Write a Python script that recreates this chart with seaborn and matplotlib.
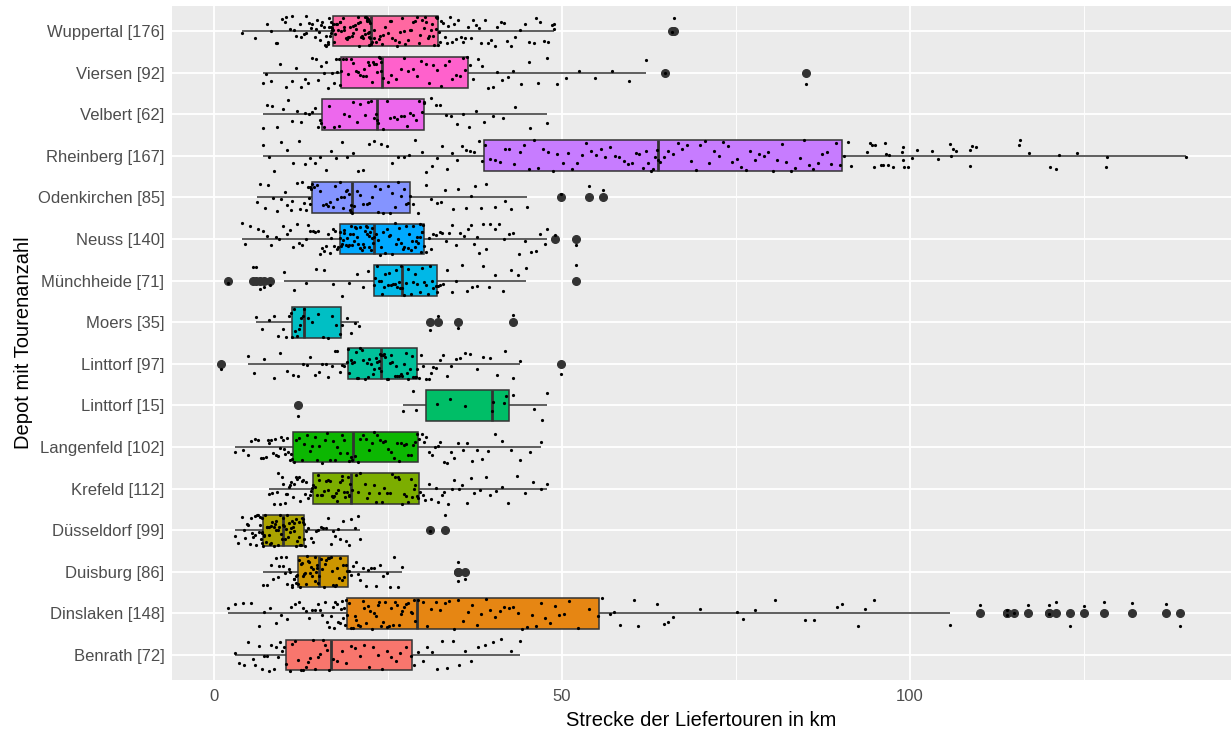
import numpy as np
import pandas as pd
import matplotlib
matplotlib.use("Agg")
import matplotlib.pyplot as plt
import seaborn as sns

# ---------------- data (km per tour) ----------------
depots = ["Wuppertal [176]", "Viersen [92]", "Velbert [62]", "Rheinberg [167]",
          "Odenkirchen [85]", "Neuss [140]", "Münchheide [71]", "Moers [35]",
          "Linttorf [97]", "Linttorf [15]", "Langenfeld [102]", "Krefeld [112]",
          "Düsseldorf [99]", "Duisburg [86]", "Dinslaken [148]", "Benrath [72]"]

# ggplot hue order (alphabetical factor levels)
hue_levels = ["Benrath [72]", "Dinslaken [148]", "Duisburg [86]", "Düsseldorf [99]",
              "Krefeld [112]", "Langenfeld [102]", "Linttorf [15]", "Linttorf [97]",
              "Moers [35]", "Münchheide [71]", "Neuss [140]", "Odenkirchen [85]",
              "Rheinberg [167]", "Velbert [62]", "Viersen [92]", "Wuppertal [176]"]

wuppertal = [4.0, 5.9, 7.6, 8.1, 8.8, 9.0, 9.7, 10.2, 10.3, 10.9, 11.2, 11.4, 11.8, 12.3, 12.4,
             12.9, 13.1, 13.2, 13.6, 13.9, 14.1, 14.4, 14.6, 14.8, 15.0, 15.2, 15.4, 15.5, 15.7,
             15.9, 16.0, 16.1, 16.3, 16.4, 16.5, 16.5, 16.6, 16.7, 16.8, 16.8, 16.9, 16.9, 17.0, 17.0,
             17.1, 17.2, 17.4, 17.5, 17.7, 17.8, 18.0, 18.1, 18.2, 18.5, 18.6, 18.7, 18.9, 19.1,
             19.2, 19.4, 19.5, 19.8, 19.9, 20.0, 20.2, 20.3, 20.6, 20.7, 20.8, 21.0, 21.1, 21.2,
             21.4, 21.5, 21.6, 21.7, 21.8, 21.9, 22.0, 22.0, 22.1, 22.1, 22.2, 22.2, 22.3, 22.3,
             22.4, 22.4,
             22.5, 22.7, 22.9, 23.0, 23.3, 23.6, 23.8, 24.1, 24.3, 24.5, 24.9, 25.2, 25.4, 25.6,
             25.9, 26.3, 26.5, 26.7, 27.0, 27.3, 27.4, 27.8, 28.1, 28.3, 28.6, 28.8, 29.1, 29.4,
             29.6, 29.9, 30.1, 30.3, 30.5, 30.7, 30.9, 31.1, 31.3, 31.5, 31.6, 31.8, 31.9, 32.0,
             32.0, 32.1,
             32.3, 32.4, 32.6, 32.9, 33.1, 33.4, 33.6, 33.9, 34.2, 34.5, 34.8, 35.1, 35.4, 35.8,
             36.1, 36.5, 36.9, 37.2, 37.6, 38.0, 38.4, 38.9, 39.3, 39.8, 40.3, 40.7, 41.2, 41.6,
             42.1, 42.7, 43.3, 43.9, 44.6, 45.2, 45.9, 46.3, 46.8, 47.4, 48.0, 48.5, 48.8, 48.9,
             65.8, 66.1]

viersen = [7.0, 7.4, 8.2, 9.5, 10.3, 11.1, 11.8, 12.5, 13.0, 13.4, 14.1, 14.6, 14.9, 15.3, 15.8,
           16.1, 16.4, 16.9, 17.2, 17.5, 17.7, 17.9, 18.0,
           18.2, 18.5, 18.9, 19.2, 19.6, 19.9, 20.3, 20.6, 20.9, 21.3, 21.5, 21.8, 22.1, 22.3,
           22.6, 22.8, 23.0, 23.2, 23.4, 23.6, 23.8, 23.9, 24.0,
           24.3, 24.9, 25.4, 26.1, 26.8, 27.3, 27.9, 28.6, 29.2, 29.7, 30.4, 30.9, 31.5, 32.0,
           32.6, 33.1, 33.7, 34.2, 34.8, 35.3, 35.7, 36.0, 36.3,
           36.7, 37.2, 37.9, 38.5, 39.3, 40.1, 40.6, 41.4, 42.2, 43.0, 44.1, 45.3, 46.5, 47.8,
           49.2, 50.6, 52.4, 54.8, 57.2, 59.6, 62.1, 64.8, 85.1]

velbert = [7.0, 7.6, 8.3, 9.0, 9.9, 10.6, 11.2, 11.9, 12.5, 13.0, 13.6, 14.1, 14.5, 14.9, 15.2, 15.4,
           15.8, 16.5, 17.2, 17.9, 18.6, 19.3, 19.9, 20.5, 21.0, 21.6, 22.1, 22.5, 22.9, 23.2, 23.4,
           23.5, 24.2, 24.8, 25.3, 25.8, 26.3, 26.8, 27.2, 27.7, 28.1, 28.6, 29.0, 29.4, 29.8, 30.1,
           30.2, 31.2, 31.8, 32.5, 33.3, 34.0, 34.9, 35.7, 36.6, 37.6, 38.7, 40.0, 41.5, 43.2, 45.4,
           47.9]

rheinberg = [7.0, 7.8, 8.5, 9.6, 10.4, 11.3, 12.1, 13.0, 13.7, 14.5, 15.2, 16.0, 16.8, 17.5, 18.3,
             19.0, 19.9, 20.7, 21.4, 22.3, 23.0, 23.9, 24.8, 25.5, 26.4, 27.2, 28.0, 28.9, 29.8,
             30.5, 31.3, 32.0, 32.8, 33.5, 34.2, 34.9, 35.6, 36.2, 36.8, 37.4, 38.0, 38.5,
             38.9, 39.6, 40.3, 41.0, 41.8, 42.4, 43.1, 43.9, 44.5, 45.2, 45.9, 46.6, 47.3, 48.0,
             48.7, 49.3, 50.1, 50.8, 51.4, 52.1, 52.9, 53.5, 54.2, 54.9, 55.6, 56.2, 56.9, 57.6,
             58.2, 58.9, 59.5, 60.1, 60.6, 61.1, 61.6, 62.0, 62.4, 62.8, 63.1, 63.4, 63.6, 63.8,
             64.1, 64.7, 65.3, 66.0, 66.6, 67.3, 67.9, 68.6, 69.2, 69.9, 70.5, 71.2, 71.8, 72.5,
             73.1, 73.8, 74.4, 75.1, 75.7, 76.4, 77.0, 77.7, 78.3, 79.0, 79.6, 80.3, 80.9, 81.6,
             82.2, 82.9, 83.5, 84.2, 84.8, 85.5, 86.1, 86.8, 87.4, 88.1, 88.7, 89.4, 90.0, 90.6,
             91.1, 91.5, 93.8, 94.3, 94.6, 94.8, 95.0, 95.8, 96.1, 96.5, 96.6, 96.8, 97.0, 97.6,
             98.9, 99.0, 99.1, 99.2, 99.8, 100.3, 101.0, 103.2, 104.0, 105.8, 106.0, 106.2, 106.6,
             108.6, 108.7, 109.0, 109.5, 115.7, 115.8, 117.1, 120.1, 121.0, 121.5, 124.1, 128.2,
             128.3, 139.8]

odenkirchen = [6.1, 6.5, 7.3, 7.7, 8.4, 9.0, 9.6, 10.1, 10.5, 11.0, 11.2, 11.9, 12.3, 12.6, 12.9,
               13.2, 13.4, 13.6, 13.7, 13.8, 13.9, 14.0,
               14.3, 14.7, 15.2, 15.6, 16.1, 16.3, 16.6, 17.1, 17.4, 17.7, 18.0, 18.2, 18.5, 18.7,
               18.9, 19.1, 19.3, 19.5, 19.6, 19.7, 19.8,
               20.1, 20.5, 20.9, 21.4, 21.9, 22.2, 22.6, 23.1, 23.5, 23.8, 24.3, 24.9, 25.2, 25.6,
               26.0, 26.4, 26.8, 27.2, 27.5, 27.8, 28.1,
               28.6, 29.3, 30.4, 31.1, 32.0, 32.6, 33.1, 34.3, 35.0, 36.2, 36.9, 37.5, 38.4, 39.1,
               40.3, 41.8, 42.7, 44.9, 49.9, 53.9, 55.9]

neuss = [4.0, 4.4, 5.1, 6.2, 7.0, 7.5, 8.1, 8.9, 9.3, 9.9, 10.4, 10.8, 11.3, 11.9, 12.2, 12.6, 13.1,
         13.5, 13.8, 14.2, 14.5, 14.9, 15.2, 15.5, 15.8, 16.1, 16.3, 16.6, 16.8, 17.0, 17.2, 17.4,
         17.6, 17.8, 18.0,
         18.1, 18.2, 18.3, 18.5, 18.6, 18.7, 18.9, 19.0, 19.2, 19.3, 19.5, 19.6, 19.8, 19.9, 20.1,
         20.2, 20.4, 20.5, 20.7, 20.9, 21.0, 21.2, 21.3, 21.5, 21.6, 21.8, 21.9, 22.0, 22.2, 22.3,
         22.4, 22.5, 22.6, 22.7, 22.8,
         23.0, 23.3, 23.5, 23.8, 24.0, 24.3, 24.6, 24.8, 25.1, 25.3, 25.6, 25.9, 26.1, 26.4, 26.6,
         26.9, 27.1, 27.3, 27.6, 27.8, 28.0, 28.2, 28.4, 28.6, 28.8, 29.0, 29.2, 29.3, 29.5, 29.6,
         29.7, 29.8, 29.9, 30.0, 30.1,
         30.4, 30.8, 31.1, 31.5, 31.9, 32.4, 32.7, 33.3, 33.8, 34.2, 34.8, 35.3, 35.9, 36.4, 36.9,
         37.4, 37.7, 38.0, 38.6, 39.1, 39.7, 40.3, 40.9, 41.6, 42.3, 43.0, 43.8, 44.6, 45.5, 46.2,
         46.8, 47.5, 47.9, 49.0, 52.0]

muenchheide = [2.0, 5.6, 6.0, 6.6, 7.1, 8.0, 10.0, 11.4, 13.2, 14.6, 15.8, 17.1, 18.3, 19.4, 20.5,
               21.3, 22.1, 22.9,
               23.1, 23.4, 23.6, 23.9, 24.1, 24.4, 24.6, 24.9, 25.1, 25.4, 25.7, 25.9, 26.1, 26.3,
               26.5, 26.7, 26.9, 27.0,
               27.2, 27.5, 27.9, 28.2, 28.5, 28.9, 29.2, 29.5, 29.8, 30.1, 30.4, 30.7, 31.0, 31.3,
               31.5, 31.8, 32.0, 32.1,
               32.4, 32.9, 33.5, 34.2, 34.8, 35.6, 36.3, 37.1, 37.8, 38.6, 39.5, 40.4, 41.5, 42.6,
               43.7, 44.8, 52.0]

moers = [6.0, 6.9, 7.8, 8.5, 9.2, 9.8, 10.3, 10.7, 11.0,
         11.2, 11.4, 11.6, 11.9, 12.1, 12.3, 12.5, 12.7, 12.9,
         13.4, 14.1, 14.9, 15.6, 16.3, 16.9, 17.5, 18.0,
         18.4, 19.1, 19.6, 20.2, 20.8, 31.0, 32.1, 35.1, 43.0]

linttorf97 = [1.0, 4.9, 5.7, 7.1, 8.5, 9.4, 10.4, 11.3, 12.0, 12.7, 13.3, 13.8, 14.4, 15.0, 15.5,
              16.0, 16.4, 16.9, 17.3, 17.7, 18.1, 18.4, 18.7, 19.0,
              19.2, 19.4, 19.6, 19.8, 20.1, 20.3, 20.5, 20.7, 21.0, 21.2, 21.4, 21.6, 21.9, 22.1,
              22.3, 22.5, 22.8, 23.0, 23.2, 23.4, 23.6, 23.7, 23.8, 23.9, 24.0,
              24.2, 24.4, 24.6, 24.8, 25.0, 25.2, 25.4, 25.6, 25.9, 26.1, 26.3, 26.6, 26.8, 27.0,
              27.3, 27.5, 27.7, 27.9, 28.1, 28.4, 28.6, 28.8, 29.0, 29.1,
              29.4, 29.7, 30.0, 30.4, 30.8, 31.1, 31.5, 31.9, 32.4, 32.9, 33.4, 34.0, 34.7, 35.3,
              36.0, 36.8, 37.7, 38.6, 39.6, 40.7, 41.8, 42.9, 43.9, 49.9]

linttorf15 = [12.0, 27.1, 28.5, 29.0, 32.0, 33.9, 36.0, 39.9, 40.0, 41.7, 41.9, 42.9, 45.9, 47.1, 47.9]

langenfeld = [2.9, 4.1, 4.8, 5.3, 5.9, 6.3, 6.7, 7.0, 7.4, 7.7, 7.9, 8.2, 8.4, 8.7, 8.9, 9.2, 9.4,
              9.6, 9.8, 10.0, 10.2, 10.4, 10.6, 10.8, 11.0, 11.2,
              11.5, 11.8, 12.2, 12.6, 12.9, 13.3, 13.7, 14.0, 14.4, 14.8, 15.1, 15.5, 15.9, 16.2,
              16.6, 17.0, 17.3, 17.7, 18.0, 18.4, 18.7, 19.0, 19.3, 19.6, 19.8,
              20.2, 20.6, 21.0, 21.4, 21.8, 22.2, 22.6, 23.0, 23.4, 23.8, 24.2, 24.6, 25.0, 25.4,
              25.8, 26.2, 26.5, 26.9, 27.2, 27.5, 27.8, 28.2, 28.5, 28.8, 29.1,
              29.4, 29.8, 30.1, 30.5, 30.9, 31.3, 31.7, 32.1, 32.5, 33.0, 33.5, 34.0, 34.5, 35.1,
              35.7, 36.3, 37.0, 37.7, 38.5, 39.3, 40.3, 41.4, 42.6, 43.9, 45.4, 46.9]

krefeld = [7.9, 8.3, 8.6, 9.0, 9.1, 9.4, 9.7, 9.8, 10.1, 10.3, 10.4, 10.7, 10.9, 11.0, 11.3, 11.4,
           11.7, 11.9, 12.2, 12.3, 12.6, 12.8, 13.0, 13.2, 13.5, 13.7, 13.9, 14.0,
           14.2, 14.4, 14.7, 14.9, 15.1, 15.4, 15.5, 15.8, 16.0, 16.3, 16.4, 16.6, 16.9, 17.1,
           17.2, 17.5, 17.7, 17.8, 18.1, 18.3, 18.4, 18.7, 18.8, 19.0, 19.2, 19.3, 19.4, 19.5,
           19.8, 20.3, 20.7, 21.0, 21.6, 22.0, 22.3, 22.9, 23.2, 23.6, 24.1, 24.4, 24.8, 25.3,
           25.5, 25.9, 26.4, 26.6, 27.0, 27.3, 27.6, 27.9, 28.2, 28.4, 28.7, 28.9, 29.1, 29.3,
           29.6, 30.0, 30.3, 30.9, 31.2, 31.8, 32.1, 32.7, 33.0, 33.6, 34.1, 34.5, 35.2, 35.6,
           36.3, 36.9, 37.4, 38.2, 39.0, 39.6, 40.5, 41.3, 42.2, 43.5, 44.7, 45.8, 46.9, 47.9]

duesseldorf = [3.0, 3.4, 3.9, 4.2, 4.4, 4.7, 4.9, 5.1, 5.3, 5.4, 5.6, 5.8, 5.9, 6.0, 6.1, 6.3, 6.4,
               6.5, 6.6, 6.7, 6.8, 6.8, 6.9, 6.9, 7.0,
               7.1, 7.2, 7.3, 7.4, 7.5, 7.6, 7.8, 7.9, 8.0, 8.1, 8.2, 8.3, 8.5, 8.6, 8.7, 8.8, 8.9,
               9.1, 9.2, 9.3, 9.4, 9.6, 9.7, 9.8, 9.9,
               10.0, 10.2, 10.3, 10.4, 10.6, 10.7, 10.9, 11.0, 11.1, 11.3, 11.4, 11.5, 11.7, 11.8,
               11.9, 12.1, 12.2, 12.3, 12.5, 12.6, 12.7, 12.8, 12.9, 12.9, 13.0,
               13.2, 13.5, 13.9, 14.2, 14.6, 14.9, 15.3, 15.6, 16.0, 16.3, 16.7, 17.0, 17.4, 17.8,
               18.1, 18.5, 18.9, 19.3, 19.7, 20.2, 20.6, 21.0, 31.0, 33.1]

duisburg = [7.0, 7.5, 8.1, 8.4, 8.8, 9.1, 9.3, 9.6, 9.9, 10.1, 10.3, 10.5, 10.7, 10.9, 11.1, 11.2,
            11.4, 11.5, 11.7, 11.8, 11.9, 12.0,
            12.1, 12.3, 12.4, 12.6, 12.7, 12.9, 13.0, 13.2, 13.3, 13.5, 13.6, 13.8, 13.9, 14.1,
            14.2, 14.4, 14.5, 14.6, 14.7, 14.8, 14.9,
            15.1, 15.3, 15.5, 15.7, 15.9, 16.1, 16.3, 16.5, 16.7, 16.9, 17.1, 17.3, 17.5, 17.7,
            17.9, 18.1, 18.3, 18.5, 18.7, 18.9, 19.0,
            19.3, 19.6, 20.0, 20.3, 20.7, 21.0, 21.4, 21.8, 22.1, 22.5, 22.9, 23.3, 23.8, 24.3,
            24.8, 25.3, 25.8, 26.4, 27.0, 35.0, 35.1, 36.1]

dinslaken = [2.0, 2.9, 4.1, 5.3, 6.4, 7.2, 8.0, 8.9, 9.6, 10.4, 11.0, 11.6, 12.1, 12.7, 13.2, 13.6,
             14.1, 14.5, 14.9, 15.2, 15.5, 15.9, 16.2, 16.5, 16.8, 17.0, 17.2, 17.4, 17.6, 17.8,
             18.0, 18.2, 18.4, 18.5, 18.7, 18.8, 18.9,
             19.1, 19.4, 19.6, 19.9, 20.2, 20.4, 20.7, 21.0, 21.3, 21.5, 21.8, 22.1, 22.4, 22.6,
             22.9, 23.2, 23.5, 23.7, 24.0, 24.3, 24.5, 24.8, 25.1, 25.4, 25.7, 25.9, 26.2, 26.5,
             26.8, 27.0, 27.3, 27.6, 27.9, 28.2, 28.4, 28.7, 28.9,
             29.3, 30.0, 30.6, 31.2, 31.9, 32.5, 33.2, 33.8, 34.5, 35.1, 35.8, 36.4, 37.1, 37.8,
             38.4, 39.1, 39.7, 40.4, 41.1, 41.7, 42.4, 43.0, 43.7, 44.3, 45.0, 45.7, 46.3, 47.0,
             47.6, 48.3, 49.0, 49.6, 50.3, 51.0, 52.3, 53.8, 55.2,
             55.8, 56.9, 57.5, 58.3, 60.4, 60.9, 63.6, 64.6, 65.2, 66.0, 69.8, 75.1, 76.0, 77.7,
             80.6, 84.9, 86.3, 89.5, 90.2, 92.6, 93.5, 94.9, 105.8, 110.1, 114.0, 114.0, 115.0,
             117.0, 120.0, 120.0, 121.0, 123.0, 125.0, 128.0, 131.9, 136.9, 138.9]

benrath = [3.0, 3.6, 4.3, 4.9, 5.5, 5.9, 6.4, 6.8, 7.1, 7.5, 7.8, 8.2, 8.5, 8.8, 9.1, 9.4, 9.7, 10.0,
           10.3, 10.8, 11.2, 11.6, 12.0, 12.4, 12.7, 13.1, 13.5, 13.8, 14.2, 14.5, 14.9, 15.2,
           15.6, 15.9, 16.2, 16.5,
           17.0, 17.6, 18.3, 18.9, 19.6, 20.2, 20.9, 21.5, 22.2, 22.8, 23.5, 24.1, 24.8, 25.4,
           26.1, 26.7, 27.5, 28.3,
           28.7, 29.3, 30.0, 30.6, 31.3, 32.0, 32.8, 33.5, 34.3, 35.2, 36.0, 36.9, 37.9, 38.9,
           40.0, 41.2, 42.6, 44.0]

x_ticks = [0, 50, 100]
x_minor = [25, 75, 125]

series = [wuppertal, viersen, velbert, rheinberg, odenkirchen, neuss, muenchheide, moers,
          linttorf97, linttorf15, langenfeld, krefeld, duesseldorf, duisburg, dinslaken, benrath]
df = pd.DataFrame({
    "depot": np.concatenate([[d] * len(v) for d, v in zip(depots, series)]),
    "km": np.concatenate([np.asarray(v, float) for v in series]),
})


# ggplot2 default hue palette (hcl, c=100, l=65)
def hcl_hex(h, c=100.0, l=65.0):
    XN, YN, ZN = 95.047, 100.0, 108.883
    hr = np.deg2rad(h)
    U, V = c * np.cos(hr), c * np.sin(hr)
    Y = YN * ((l + 16) / 116) ** 3
    t = XN + YN + ZN
    x, y = XN / t, YN / t
    uN = 2 * x / (6 * y - x + 1.5)
    vN = 4.5 * y / (6 * y - x + 1.5)
    u = U / (13 * l) + uN
    v = V / (13 * l) + vN
    X = 9.0 * Y * u / (4 * v)
    Z = -X / 3 - 5 * Y + 3 * Y / v
    rgb = np.array([(3.240479 * X - 1.537150 * Y - 0.498535 * Z) / YN,
                    (-0.969256 * X + 1.875992 * Y + 0.041556 * Z) / YN,
                    (0.055648 * X - 0.204043 * Y + 1.057311 * Z) / YN])
    rgb = np.where(rgb > 0.0031308, 1.055 * np.abs(rgb) ** (1 / 2.4) - 0.055, 12.92 * rgb)
    rgb = np.clip(rgb, 0, 1)
    return matplotlib.colors.to_hex(rgb)


n = len(hue_levels)
hues = np.linspace(15, 375, n + 1)[:n]
palette = {lvl: hcl_hex(h) for lvl, h in zip(hue_levels, hues)}

# ---------------- styling ----------------
sns.set_theme(style="darkgrid")
plt.rcParams["font.family"] = ["Liberation Sans", "DejaVu Sans"]
plt.rcParams["axes.facecolor"] = "#EBEBEB"
plt.rcParams["grid.color"] = "white"

W, H = 1231, 733
fig = plt.figure(figsize=(W / 100, H / 100), dpi=100)
ax = fig.add_axes([172 / W, 1 - 680 / H, (1231 - 172) / W, (680 - 6) / H])
ax.set_facecolor("#EBEBEB")

sns.boxplot(data=df, x="km", y="depot", hue="depot", order=depots, hue_order=hue_levels,
            palette=palette, saturation=1, width=0.74, whis=1.5, linecolor="#333333",
            linewidth=1.1, showcaps=False, legend=False, ax=ax, zorder=2,
            medianprops={"linewidth": 2.0, "color": "#333333"},
            flierprops={"marker": "o", "markerfacecolor": "#333333",
                        "markeredgecolor": "#333333", "markersize": 5.5})

np.random.seed(3)
sns.stripplot(data=df, x="km", y="depot", order=depots, color="black", size=2.3,
              jitter=0.38, linewidth=0, ax=ax, zorder=4)

ax.set_xlim(-6.1, 146.2)
ax.set_ylim(len(depots) - 1 + 0.6, -0.6)
ax.set_xticks(x_ticks)
ax.set_xticks(x_minor, minor=True)
ax.set_xticklabels([str(t) for t in x_ticks])
ax.grid(True, which="major", color="white", linewidth=1.3)
ax.grid(True, which="minor", axis="x", color="white", linewidth=0.65)
ax.set_axisbelow(True)
for s in ax.spines.values():
    s.set_visible(False)

ax.tick_params(axis="both", which="major", length=3.2, width=0.9, color="#333333",
               labelcolor="#4D4D4D", labelsize=12, pad=2.3)
ax.tick_params(axis="x", which="major", pad=3.5)
ax.tick_params(axis="x", which="minor", length=0)
ax.set_xlabel("Strecke der Liefertouren in km", fontsize=14.5, color="black", labelpad=5)
ax.set_ylabel("Depot mit Tourenanzahl", fontsize=14.5, color="black", labelpad=3)

fig.savefig("out.png", dpi=100)
